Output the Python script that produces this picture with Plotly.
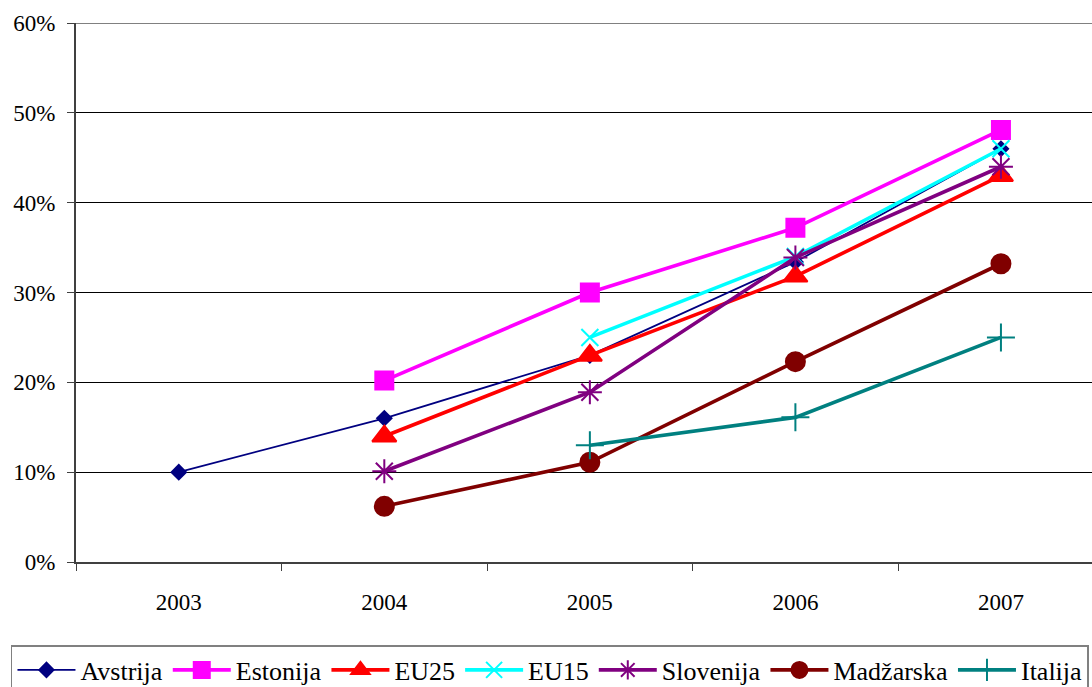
import plotly.graph_objects as go

years = ["2003", "2004", "2005", "2006", "2007"]
avstrija = [10, 16, 23, 33.4, 46]
estonija = [None, 20.2, 30, 37.2, 48.1]
eu25 = [None, 14, 23, 31.8, 43]
eu15 = [None, None, 25, 34, 46]
slovenija = [None, 10.1, 18.9, 33.9, 44]
madzarska = [None, 6.2, 11.1, 22.3, 33.2]
italija = [None, None, 13, 16.1, 25]

series = [
    ("Avstrija", avstrija, "#000080", 1.8, "diamond", 11),
    ("Estonija", estonija, "#FF00FF", 3.6, "square", 18),
    ("EU25", eu25, "#FF0000", 3.6, "triangle-up", 21),
    ("EU15", eu15, "#00FFFF", 3.6, "x-thin", 17),
    ("Slovenija", slovenija, "#800080", 3.6, "asterisk", 20),
    ("Madžarska", madzarska, "#800000", 3.6, "circle", 19),
    ("Italija", italija, "#008080", 3.6, "cross-thin", 20),
]

fig = go.Figure()
for name, vals, color, lw, sym, size in series:
    fig.add_trace(go.Scatter(
        x=years, y=vals, name=name, mode="lines+markers",
        line=dict(color=color, width=lw),
        marker=dict(symbol=sym, size=size, color=color,
                    line=dict(color=color, width=2)),
    ))

font = "Liberation Serif"
fig.update_layout(
    width=1092, height=705,
    margin=dict(l=76, r=0, t=23, b=143),
    paper_bgcolor="white", plot_bgcolor="white",
    font=dict(family=font, size=23, color="black"),
    showlegend=True,
    legend=dict(orientation="h", x=-0.064, xanchor="left", y=-0.154, yanchor="top",
                bordercolor="#808080", borderwidth=1.5,
                font=dict(family=font, size=26, color="black"),
                itemwidth=58, tracegroupgap=0),
    xaxis=dict(type="category", range=[-0.5, 4.443], tickson="boundaries",
               ticks="outside", ticklen=7, tickcolor="#404040",
               showline=True, linecolor="#404040", linewidth=2,
               showgrid=False, ticklabelstandoff=18, automargin=False,
               tickfont=dict(family=font, size=23)),
    yaxis=dict(range=[0, 60], tickvals=[0, 10, 20, 30, 40, 50, 60],
               ticktext=["0%", "10%", "20%", "30%", "40%", "50%", "60%"],
               ticks="outside", ticklen=7, tickcolor="#404040",
               showline=True, linecolor="#404040", linewidth=2,
               showgrid=True, gridcolor="black", gridwidth=1,
               zeroline=False, ticklabelstandoff=7, automargin=False,
               tickfont=dict(family=font, size=23)),
)
fig.add_shape(type="line", xref="paper", yref="y", x0=0, x1=1, y0=60, y1=60,
              line=dict(color="#808080", width=2))
fig.write_html("out.html", config={"displayModeBar": False},
               post_script="document.body.style.margin='0';document.body.style.overflow='hidden';")
